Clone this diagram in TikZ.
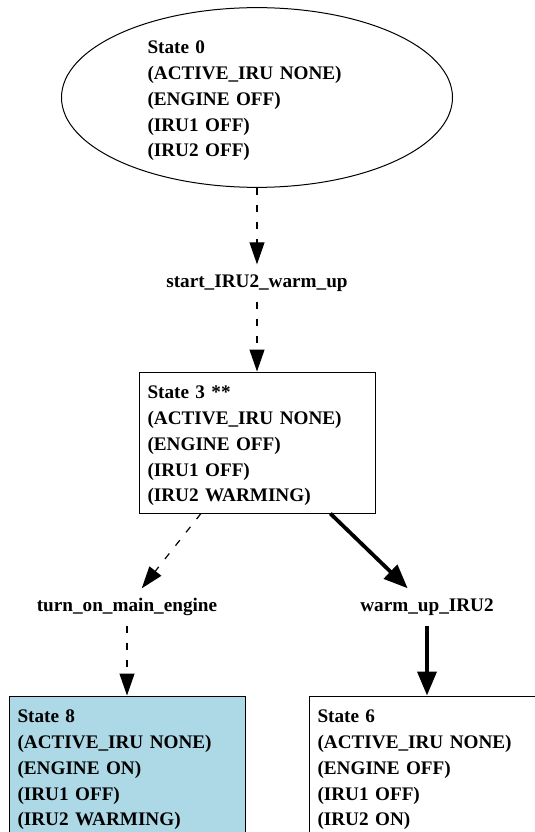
\documentclass[tikz,border=0pt]{standalone}
\usepackage{fontspec}
\setmainfont{Liberation Serif}
\usepackage{tikz}
\usetikzlibrary{shapes.geometric,arrows.meta}

\definecolor{goalblue}{RGB}{173,216,230}
\newcommand{\statefont}{\fontsize{19.2}{25.75}\selectfont\bfseries}

\tikzset{
    statebox/.style={draw, rectangle, line width=1pt, minimum width=236pt, minimum height=141pt,
        text width=219pt, align=left, inner sep=0pt, font=\statefont,
        execute at begin node={\rule{0pt}{20pt}}},
    startstate/.style={statebox, ellipse, minimum width=391pt, minimum height=179pt},
    goalstate/.style={statebox, fill=goalblue},
    actlabel/.style={font=\statefont, minimum height=37pt, inner sep=0pt},
    dashedge/.style={-{Triangle[length=22pt,width=15pt]}, line width=1.2pt, dash pattern=on 7pt off 10pt},
    boldedge/.style={-{Triangle[length=24pt,width=19pt]}, line width=3.8pt}
}

\begin{document}
\begin{tikzpicture}[x=1pt,y=-1pt]
        \clip (0,0) rectangle (535,832);
        \node[startstate] (s0) at (257,97.5) {State 0\\(ACTIVE\_IRU NONE)\\(ENGINE OFF)\\(IRU1 OFF)\\(IRU2 OFF)};
        \node[actlabel] (a0) at (257,283) {start\_IRU2\_warm\_up};
        \node[statebox] (s3) at (257,442.5) {State 3 **\\(ACTIVE\_IRU NONE)\\(ENGINE OFF)\\(IRU1 OFF)\\(IRU2 WARMING)};
        \node[actlabel] (a1) at (127,607) {turn\_on\_main\_engine};
        \node[actlabel] (a2) at (427,607) {warm\_up\_IRU2};
        \node[goalstate] (s8) at (127,766.5) {State 8\\(ACTIVE\_IRU NONE)\\(ENGINE ON)\\(IRU1 OFF)\\(IRU2 WARMING)};
        \node[statebox] (s6) at (427,766.5) {State 6\\(ACTIVE\_IRU NONE)\\(ENGINE OFF)\\(IRU1 OFF)\\(IRU2 ON)};
        \draw[dashedge] (s0) -- (a0);
        \draw[dashedge] (a0) -- (s3);
        \draw[dashedge] (s3) -- (a1);
        \draw[dashedge] (a1) -- (s8);
        \draw[boldedge] (s3) -- (a2);
        \draw[boldedge] (a2) -- (s6);
    \end{tikzpicture}
\end{document}
